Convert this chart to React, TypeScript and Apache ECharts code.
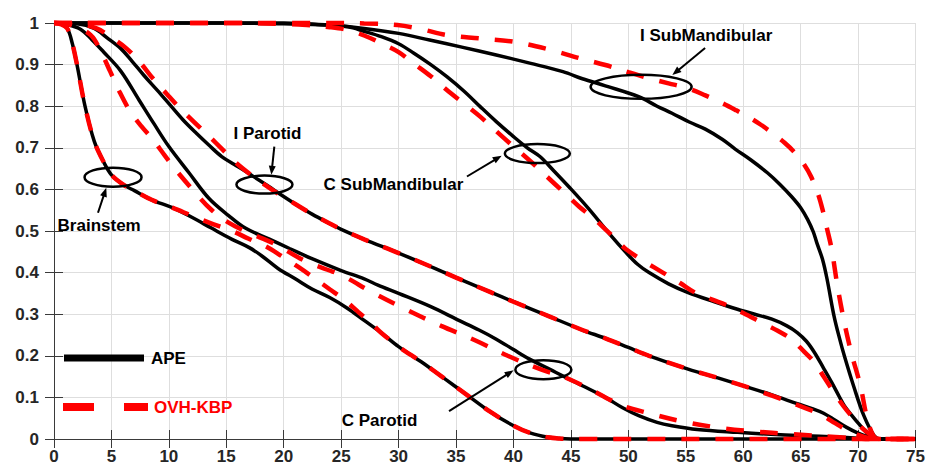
import React, { useEffect, useRef } from "react";
import * as echarts from "echarts";

// ---- Data (dose in Gy, fractional volume) ----
const brainstemAPE: number[][] = [
  [0, 1], [0.5, 0.998], [1.15, 0.987], [1.6, 0.95], [2, 0.9], [2.7, 0.8], [3.5, 0.716], [4.3, 0.667],
  [5, 0.635], [6, 0.612], [7, 0.597], [8.5, 0.575], [10.3, 0.556], [12, 0.533], [13.7, 0.507],
  [15.5, 0.48], [17, 0.46], [18.1, 0.44], [19.5, 0.41], [21, 0.385], [22.5, 0.36], [24, 0.34],
  [25.5, 0.315], [27, 0.285], [28.5, 0.255], [30, 0.222], [32, 0.185], [34, 0.145], [36, 0.105],
  [38, 0.065], [40, 0.032], [41.5, 0.014], [43, 0.004], [44, 0.001], [45, 0], [75, 0],
];
const brainstemKBP: number[][] = [
  [0, 1], [0.5, 0.998], [1.15, 0.987], [1.6, 0.95], [2, 0.9], [2.7, 0.8], [3.5, 0.716], [4.3, 0.667],
  [5, 0.635], [6, 0.612], [7, 0.597], [8.5, 0.575], [10.3, 0.556], [12, 0.537], [13.9, 0.516],
  [15.5, 0.5], [16.9, 0.482], [18.5, 0.462], [19.8, 0.44], [21.3, 0.413], [22.8, 0.384], [24, 0.36],
  [25.3, 0.334], [26.5, 0.305], [27.7, 0.276], [28.5, 0.255], [30, 0.222], [32, 0.185], [34, 0.145],
  [36, 0.105], [38, 0.065], [40, 0.032], [41.5, 0.014], [43, 0.004], [44, 0.001], [45, 0], [75, 0],
];
const cParotidAPE: number[][] = [
  [0, 1], [1, 0.997], [2.3, 0.985], [3.3, 0.96], [4.3, 0.931], [5.8, 0.885], [7.4, 0.815],
  [8.7, 0.758], [10, 0.703], [11.75, 0.64], [13.5, 0.578], [15.2, 0.537], [16.65, 0.507],
  [18.7, 0.481], [20.5, 0.458], [22.4, 0.434], [25, 0.405], [27, 0.385], [28.2, 0.37], [30, 0.35],
  [32.8, 0.318], [35.1, 0.287], [37, 0.262], [38.5, 0.24], [40, 0.215], [41.4, 0.192], [43.7, 0.16],
  [46, 0.128], [48, 0.1], [49.5, 0.075], [50.9, 0.056], [52.5, 0.04], [53.8, 0.032], [56, 0.023],
  [59.5, 0.016], [62, 0.012], [65.3, 0.008], [68, 0.005], [70, 0.002], [71, 0], [75, 0],
];
const cParotidKBP: number[][] = [
  [0, 1], [1.5, 0.995], [3.2, 0.971], [4.1, 0.93], [4.9, 0.883], [5.7, 0.835], [6.6, 0.789],
  [7.6, 0.752], [8.6, 0.72], [9.6, 0.683], [10.6, 0.647], [12.3, 0.592], [13.7, 0.551], [15.2, 0.52],
  [17, 0.495], [19, 0.472], [22, 0.426], [25, 0.394], [27.6, 0.354], [30.6, 0.312],
  [33.7, 0.272], [36.6, 0.238], [39.5, 0.2], [42.5, 0.166], [44.5, 0.148], [46.5, 0.122], [48, 0.1],
  [49.5, 0.08], [51.5, 0.064], [54.7, 0.042], [58.2, 0.026], [61, 0.018], [64, 0.012], [68, 0.005],
  [71, 0], [75, 0],
];
const iParotidAPE: number[][] = [
  [0, 1], [2, 0.998], [3.5, 0.987], [4.6, 0.965], [5.8, 0.939], [6.8, 0.908], [7.8, 0.875],
  [9, 0.838], [10.1, 0.803], [11.2, 0.768], [12.35, 0.736], [13.5, 0.706], [14.6, 0.679],
  [15.7, 0.66], [16.7, 0.643], [17.8, 0.623], [18.7, 0.607], [19.5, 0.592], [21, 0.565],
  [22.5, 0.54], [24, 0.518], [25, 0.504], [27, 0.48],
  [30, 0.447], [33, 0.412], [35, 0.388], [38, 0.353], [40, 0.33], [43, 0.296], [46, 0.262],
  [48, 0.242], [50, 0.22], [51.8, 0.2], [55.2, 0.168], [58, 0.145], [60.1, 0.127], [62.5, 0.106],
  [64.7, 0.085], [66, 0.073], [67, 0.062], [68, 0.045], [69, 0.028], [70, 0.014], [71, 0.004],
  [72, 0], [75, 0],
];
const iParotidKBP: number[][] = [
  [0, 1], [2, 0.998], [3.7, 0.987], [5, 0.965], [6.3, 0.939], [7.5, 0.905], [8.6, 0.867],
  [9.8, 0.83], [10.9, 0.797], [12.2, 0.762], [13.5, 0.728], [14.7, 0.695], [15.8, 0.665],
  [17, 0.638], [18.3, 0.612], [19.5, 0.59], [21, 0.565], [22.5, 0.54], [24, 0.518], [25, 0.504],
  [27, 0.48], [30, 0.447], [33, 0.412], [35, 0.388], [38, 0.353], [40, 0.33], [43, 0.296],
  [46, 0.262], [48, 0.242], [50, 0.22], [51.8, 0.2], [55.2, 0.168], [58, 0.145], [60.1, 0.127],
  [62.5, 0.104], [64.7, 0.082], [66, 0.068], [67, 0.055], [68, 0.038], [69, 0.022], [70, 0.01],
  [71, 0.002], [72, 0], [75, 0],
];
const cSubMandAPE: number[][] = [
  [0, 1], [15, 1], [20, 0.998], [23, 0.996], [25.6, 0.991], [27, 0.98], [28.5, 0.967], [30, 0.95],
  [31.3, 0.928], [32.8, 0.9], [34.2, 0.871], [35.7, 0.836], [37.1, 0.799], [38.5, 0.763],
  [40, 0.727], [41.2, 0.7], [42.3, 0.679], [43.5, 0.645], [44.8, 0.607], [46.5, 0.555],
  [48.3, 0.495], [49.8, 0.448], [50.8, 0.42], [51.8, 0.4], [53.5, 0.373], [55.2, 0.352],
  [57.5, 0.33], [59.5, 0.312], [61, 0.3], [62.5, 0.288], [63.8, 0.272], [64.7, 0.256],
  [65.5, 0.235], [66.2, 0.208], [67, 0.17], [67.7, 0.136], [68.3, 0.105], [68.8, 0.08],
  [69.5, 0.055], [70.2, 0.032], [71, 0.008], [71.5, 0], [75, 0],
];
const cSubMandKBP: number[][] = [
  [0, 1], [15, 1], [20, 0.998], [22, 0.995], [24, 0.99], [25.6, 0.983], [27, 0.97], [28.5, 0.951],
  [30, 0.93], [31.3, 0.903], [32.8, 0.872], [34.2, 0.839], [35.7, 0.806], [37.1, 0.775],
  [38.5, 0.74], [40, 0.703], [41.5, 0.667], [42.9, 0.631], [44.3, 0.595], [45.7, 0.559], [47, 0.53],
  [48, 0.504], [49, 0.478], [49.8, 0.456], [51.5, 0.425], [53, 0.4], [54.5, 0.375], [55.8, 0.352],
  [57.3, 0.335], [58.7, 0.32], [60, 0.303], [61.6, 0.28], [63, 0.26], [64.2, 0.24], [65.3, 0.21],
  [66.2, 0.184], [67, 0.15], [67.9, 0.112], [68.7, 0.08], [69.4, 0.056], [70.2, 0.03],
  [70.8, 0.016], [71.5, 0.003], [72, 0], [75, 0],
];
const iSubMandAPE: number[][] = [
  [0, 1], [20, 1], [21.3, 0.999], [24, 0.995], [27, 0.987], [30, 0.975], [32.7, 0.959],
  [35.5, 0.942], [38.5, 0.923], [41.5, 0.903], [44.3, 0.883], [46, 0.866], [48, 0.849],
  [50.9, 0.823], [52.5, 0.8], [53.8, 0.783], [55.3, 0.762], [56.7, 0.745], [58.2, 0.72],
  [59.3, 0.697], [60.7, 0.67], [62.1, 0.64], [63.2, 0.612], [64.2, 0.583], [65, 0.556],
  [65.6, 0.528], [66.1, 0.498], [66.4, 0.472], [66.9, 0.432], [67.3, 0.384], [67.9, 0.296],
  [68.4, 0.24], [68.8, 0.2], [69.6, 0.128], [70.5, 0.056], [71.4, 0.008], [72, 0], [75, 0],
];
const iSubMandKBP: number[][] = [
  [0, 1], [25, 1], [27, 0.999], [29.9, 0.995], [32, 0.985], [34.2, 0.971], [37, 0.963], [40, 0.955],
  [43, 0.937], [45.8, 0.915], [48, 0.899], [50, 0.882], [51.8, 0.867], [53.5, 0.855], [55.2, 0.843],
  [56.7, 0.826], [58.2, 0.807], [59.4, 0.79], [60.4, 0.775], [61.5, 0.756], [62.5, 0.736],
  [63.6, 0.712], [64.5, 0.688], [65.3, 0.66], [65.9, 0.631], [66.5, 0.59], [66.9, 0.552],
  [67.3, 0.505], [67.7, 0.456], [68.2, 0.368], [68.8, 0.28], [69.4, 0.208], [70.2, 0.128],
  [70.8, 0.048], [71.4, 0.005], [72, 0], [75, 0],
];

const structures = ["Brainstem", "C Parotid", "I Parotid", "C SubMandibular", "I SubMandibular"];
const apeSeries = [brainstemAPE, cParotidAPE, iParotidAPE, cSubMandAPE, iSubMandAPE];
const kbpSeries = [brainstemKBP, cParotidKBP, iParotidKBP, cSubMandKBP, iSubMandKBP];
const methodNames = ["APE", "OVH-KBP"];

// Annotation anchors in data coordinates
const annotationLabels = ["Brainstem", "I Parotid", "C SubMandibular", "I SubMandibular", "C Parotid"];
const annotationTextPos = [[3.93, 0.513], [18.58, 0.734], [29.55, 0.6115], [56.77, 0.969], [28.34, 0.0456]];
const annotationArrowFrom = [[3.83, 0.544], [19.18, 0.703], [35.95, 0.631], [56.68, 0.94], [34.39, 0.067]];
const annotationArrowTo = [[4.55, 0.604], [18.92, 0.635], [38.97, 0.681], [53.83, 0.875], [40.01, 0.165]];
const annotationEllipse = [[5.14, 0.6295], [18.32, 0.6115], [42.08, 0.686], [51.11, 0.8465], [42.6, 0.1667]];
const annotationRadii = [[28.5, 9.5], [28, 9], [32.5, 9.5], [50.5, 12], [28, 9.5]];

const FONT = "Liberation Sans, Arial, sans-serif";
const LABEL_COLOR = "#262626";

export default function App() {
  const ref = useRef<HTMLDivElement>(null);

  useEffect(() => {
    const chart = echarts.init(ref.current!, null, { renderer: "svg" });

    const axisCommon = {
      min: 0,
      axisLine: { show: true, lineStyle: { color: "#3a3a3a", width: 1 } },
      axisTick: { show: true, inside: true, length: 9, lineStyle: { color: "#3a3a3a", width: 1 } },
    };

    const series: any[] = [];
    apeSeries.forEach((d, i) => {
      series.push({
        name: methodNames[0] + " " + structures[i],
        type: "line",
        data: d,
        showSymbol: false,
        smooth: 0.35,
        clip: false,
        lineStyle: { color: "#000000", width: 3.5 },
        z: 3,
      });
    });
    kbpSeries.forEach((d, i) => {
      series.push({
        name: methodNames[1] + " " + structures[i],
        type: "line",
        data: d,
        showSymbol: false,
        smooth: 0.35,
        clip: false,
        lineStyle: { color: "#ff0000", width: 4.5, type: [18, 16] },
        z: 4,
      });
    });

    const option: any = {
      animation: false,
      backgroundColor: "#ffffff",
      grid: { left: 54, right: 6, top: 23, bottom: 25 },
      xAxis: [
        {
          ...axisCommon,
          type: "value",
          max: 75,
          interval: 5,
          position: "bottom",
          axisLabel: {
            color: LABEL_COLOR,
            fontSize: 17,
            fontWeight: "bold",
            fontFamily: FONT,
            margin: 9,
          },
          splitLine: { show: true, lineStyle: { color: "#dedede", width: 1 } },
        },
        {
          ...axisCommon,
          type: "value",
          max: 75,
          interval: 5,
          position: "top",
          axisLabel: { show: false },
          splitLine: { show: false },
        },
      ],
      yAxis: [
        {
          ...axisCommon,
          type: "value",
          max: 1,
          interval: 0.1,
          position: "left",
          axisLabel: {
            color: LABEL_COLOR,
            fontSize: 17,
            fontWeight: "bold",
            fontFamily: FONT,
            margin: 15,
            padding: [0, 0, 8, 0],
          },
          splitLine: { show: true, lineStyle: { color: "#dedede", width: 1 } },
        },
        {
          ...axisCommon,
          type: "value",
          max: 1,
          interval: 0.1,
          position: "right",
          axisLabel: { show: false },
          splitLine: { show: false },
        },
      ],
      series,
    };

    chart.setOption(option);

    const toPx = (p: number[]) =>
      chart.convertToPixel({ xAxisIndex: 0, yAxisIndex: 0 }, p) as number[];

    const graphics: any[] = [];
    annotationLabels.forEach((label, i) => {
      const t = toPx(annotationTextPos[i]);
      const a = toPx(annotationArrowFrom[i]);
      const b = toPx(annotationArrowTo[i]);
      const c = toPx(annotationEllipse[i]);
      const [rx, ry] = annotationRadii[i];
      graphics.push({
        type: "ellipse",
        shape: { cx: c[0], cy: c[1], rx, ry },
        style: { fill: "none", stroke: "#000", lineWidth: 2.5 },
        z: 20,
      });
      const dx = b[0] - a[0];
      const dy = b[1] - a[1];
      const len = Math.sqrt(dx * dx + dy * dy);
      const ux = dx / len;
      const uy = dy / len;
      const headLen = 9;
      const headW = 3.5;
      const bx = b[0] - ux * headLen;
      const by = b[1] - uy * headLen;
      graphics.push({
        type: "line",
        shape: { x1: a[0], y1: a[1], x2: bx + ux, y2: by + uy },
        style: { stroke: "#000", lineWidth: 2 },
        z: 20,
      });
      graphics.push({
        type: "polygon",
        shape: {
          points: [
            [b[0], b[1]],
            [bx - uy * headW, by + ux * headW],
            [bx + uy * headW, by - ux * headW],
          ],
        },
        style: { fill: "#000" },
        z: 20,
      });
      graphics.push({
        type: "text",
        x: t[0],
        y: t[1],
        style: {
          text: label,
          fill: "#000",
          font: `bold 17px ${FONT}`,
          align: "center",
          verticalAlign: "middle",
        },
        z: 21,
      });
    });

    // Legend (lower-left of the plot area)
    graphics.push({
      type: "line",
      shape: { x1: 64, y1: 358, x2: 144, y2: 358 },
      style: { stroke: "#000", lineWidth: 7 },
      z: 22,
    });
    graphics.push({
      type: "text",
      x: 151,
      y: 358,
      style: { text: methodNames[0], fill: "#000", font: `bold 17px ${FONT}`, verticalAlign: "middle" },
      z: 22,
    });
    graphics.push({
      type: "line",
      shape: { x1: 63, y1: 407, x2: 148, y2: 407 },
      style: { stroke: "#ff0000", lineWidth: 8, lineDash: [31, 30] },
      z: 22,
    });
    graphics.push({
      type: "text",
      x: 154,
      y: 407,
      style: { text: methodNames[1], fill: "#ff0000", font: `bold 17px ${FONT}`, verticalAlign: "middle" },
      z: 22,
    });

    chart.setOption({ graphic: graphics });

    return () => chart.dispose();
  }, []);

  return (
    <div
      ref={ref}
      style={{ position: "fixed", left: 0, top: 0, width: 928, height: 465 }}
    />
  );
}
